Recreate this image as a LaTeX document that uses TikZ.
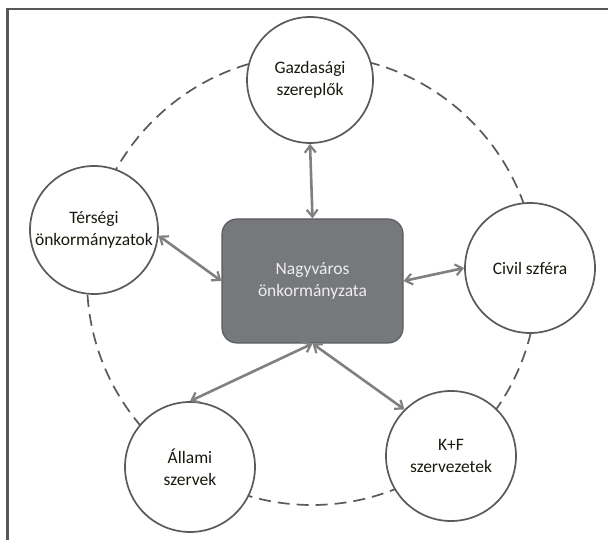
\documentclass[tikz,border=0pt]{standalone}
\usepackage{fontspec}
\setmainfont{Carlito}
\usetikzlibrary{arrows.meta}
\definecolor{framegray}{RGB}{85,88,88}
\definecolor{circgray}{RGB}{90,90,90}
\definecolor{boxfill}{RGB}{118,120,123}
\definecolor{boxline}{RGB}{90,92,95}
\definecolor{arrowgray}{RGB}{128,128,128}
\definecolor{txtdark}{RGB}{25,25,15}
\definecolor{txtlight}{RGB}{238,238,238}
\begin{document}
\begin{tikzpicture}[x=1pt,y=1pt,
  actor/.style={circle,draw=circgray,line width=1.7pt,fill=white,inner sep=0pt,
    minimum size=#1,align=center,text=txtdark,font=\fontsize{17.5}{22}\selectfont},
  centre/.style={rectangle,rounded corners=15pt,draw=boxline,line width=1.2pt,fill=boxfill,
    minimum width=181pt,minimum height=124pt,align=center,text=txtlight,
    font=\fontsize{17.5}{22}\selectfont},
  link/.style={draw=arrowgray,line width=2.6pt,
    {Straight Barb[length=7pt,width=11pt,line width=2.2pt]}-{Straight Barb[length=7pt,width=11pt,line width=2.2pt]}},
  ring/.style={draw=circgray,line width=1.7pt,dash pattern=on 12pt off 7pt}]
\useasboundingbox (0,0) rectangle (609,540);
\fill[white] (0,0) rectangle (609,540);
\draw[framegray,line width=2.4pt] (608,531) -- (7.5,531) -- (7.5,0);
\draw[ring] (312,260) circle[radius=225];
\node[centre] (box) at (312.5,259) {Nagyváros\\önkormányzata};
\node[actor=126pt] (gaz) at (310,460) {Gazdasági\\szereplők};
\node[actor=128pt] (terseg) at (94,310) {Térségi\\önkormányzatok};
\node[actor=130pt] (civil) at (530,272) {Civil szféra};
\node[actor=130pt] (allami) at (190,73) {Állami\\szervek};
\node[actor=130pt] (kf) at (451,84) {K+F\\szervezetek};
\draw[link] (gaz.south) -- (box.north);
\draw[link] (terseg.-5) -- (box.west);
\draw[link] (box.east) -- (civil.west);
\draw[link] (box.south) -- (allami.north);
\draw[link] (box.south) -- (kf.135);
\end{tikzpicture}
\end{document}
